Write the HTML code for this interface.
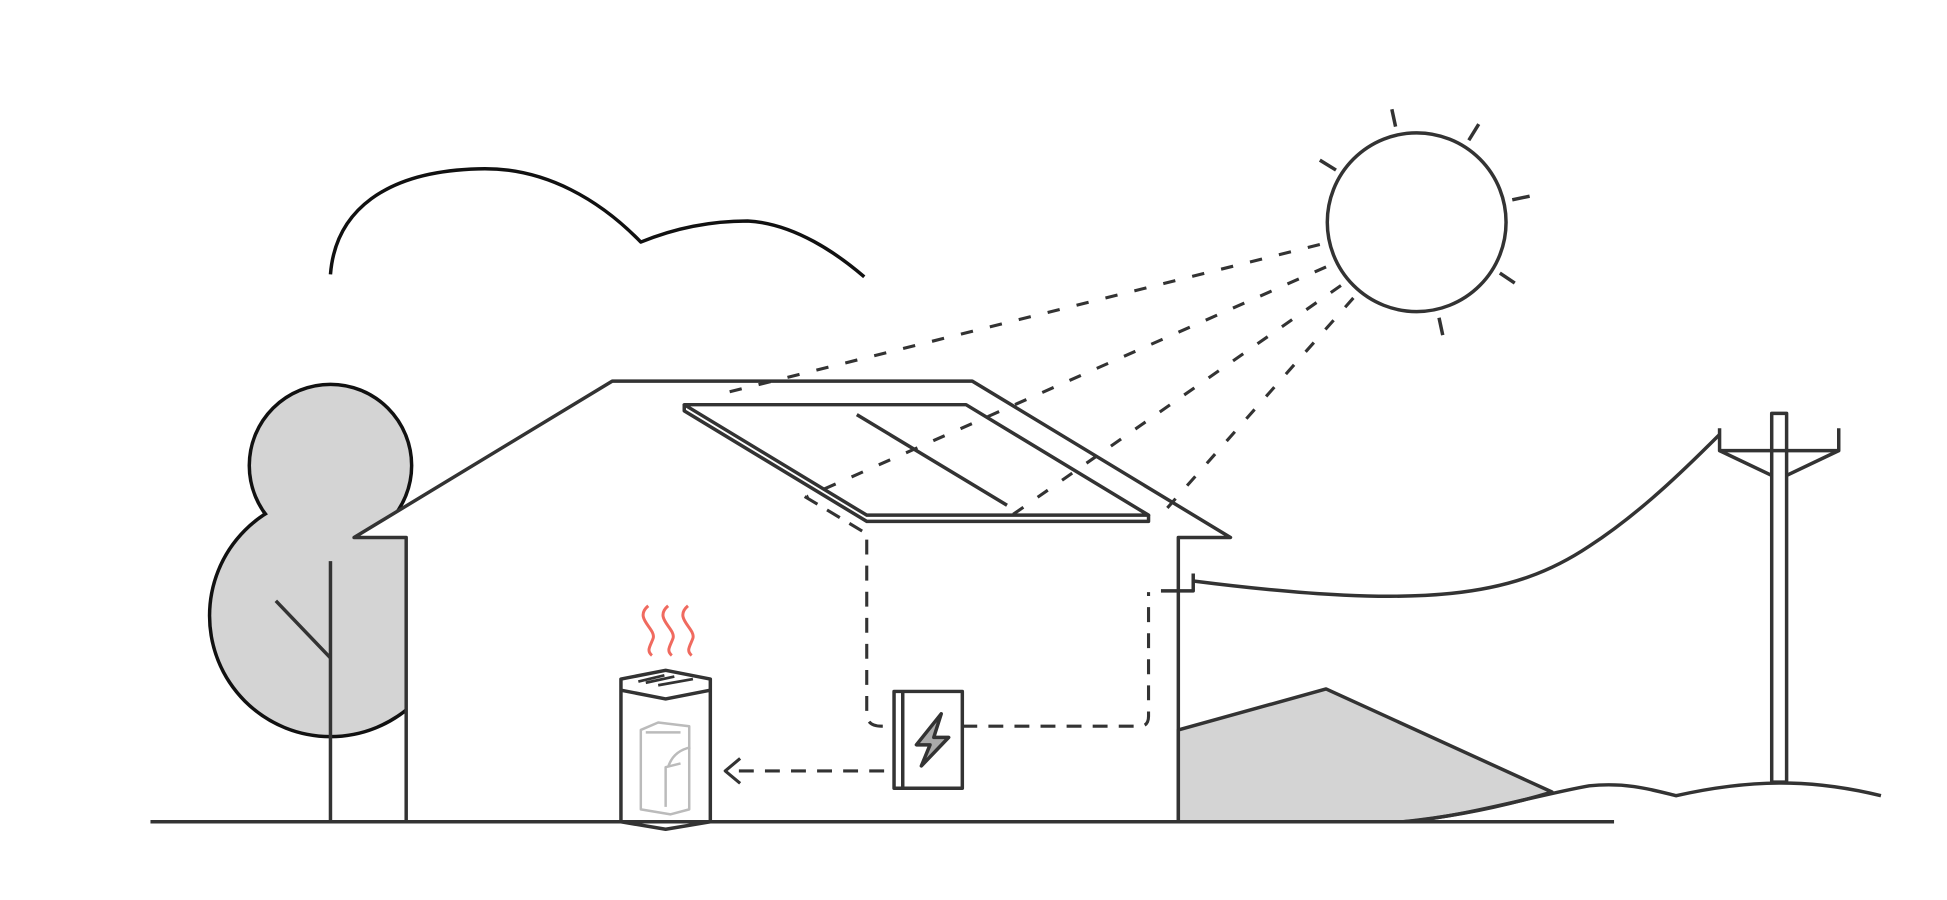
<!DOCTYPE html>
<html><head><style>html,body{margin:0;padding:0;background:#fff;width:1947px;height:900px;overflow:hidden}</style></head>
<body>
<svg width="1947" height="900" viewBox="0 0 1568 725" xmlns="http://www.w3.org/2000/svg" fill="none" stroke="#333" stroke-width="2.8" stroke-linejoin="round">
<!-- cloud -->
<path d="M266,221 C270,170 310,138 385,136 C440,134 485,163 516,195 C550,181 580,178 602,178 C640,180 675,205 696,223" stroke="#111"/>
<!-- sun -->
<circle cx="1141" cy="179" r="72"/>
<g>
<line x1="1121" y1="88" x2="1124" y2="102"/><line x1="1191" y1="100" x2="1183" y2="113"/>
<line x1="1063" y1="129" x2="1076" y2="137"/><line x1="1218" y1="161" x2="1232" y2="158"/>
<line x1="1208" y1="220" x2="1220" y2="228"/><line x1="1159" y1="256" x2="1162" y2="270"/>
</g>
<!-- tree -->
<g stroke="#111" stroke-width="5.6">
<circle cx="266" cy="375" r="64"/>
<circle cx="266" cy="496" r="96"/>
</g>
<circle cx="266" cy="375" r="64" fill="#d4d4d4" stroke="none"/>
<circle cx="266" cy="496" r="96" fill="#d4d4d4" stroke="none"/>
<line x1="266" y1="452" x2="266" y2="662"/>
<line x1="222" y1="484" x2="266" y2="530"/>
<!-- house body -->
<path d="M327,433 L327,662 L949,662 L949,433 L991,433 L783,307 L493,307 L285,433 Z" fill="#fff" stroke="none"/>
<polyline points="327,662 327,433 285,433 493,307 783,307 991,433 949,433 949,662"/>
<!-- panel -->
<polygon points="551,326 778,326 925,415 698,415" fill="#fff"/>
<polyline points="551,326 551,331 698,420 925,420 925,415"/>
<line x1="690" y1="334" x2="811" y2="407"/>
<!-- beams -->
<g stroke-dasharray="10 14" stroke-width="2.5">
<line x1="1063" y1="197" x2="578" y2="318"/>
<line x1="1068" y1="215" x2="650" y2="400"/>
<line x1="1080" y1="230" x2="815" y2="415"/>
<line x1="1090" y1="240" x2="935" y2="415"/>
</g>
<!-- wires dashed -->
<g stroke-dasharray="12 9" stroke-width="2.5">
<path d="M648,400 L698,430 L698,575 Q698,585 710,585 L720,585"/>
<path d="M775,585 L918,585 Q925,585 925,577 L925,477"/>
<line x1="712" y1="621" x2="586" y2="621"/>
</g>
<polyline points="596,611 584,621 596,631" stroke-width="2.5"/>
<!-- inverter -->
<rect x="720" y="557" width="55" height="78" fill="#fff"/>
<line x1="727" y1="557" x2="727" y2="635"/>
<path d="M758,575 L738,600 L749,600 L742,617 L764,594 L752,594 Z" fill="#aaa"/>
<!-- battery -->
<path d="M500,547 L536,540 L572,547 L572,662 L536,668 L500,662 Z" fill="#fff"/>
<polyline points="500,556 536,563 572,556"/>
<g stroke-width="2.2"><line x1="514" y1="549" x2="535" y2="544"/><line x1="520" y1="550" x2="543" y2="545"/><line x1="530" y1="552" x2="558" y2="547"/></g>
<g stroke="#bbb" stroke-width="2">
<path d="M516,588 L530,582 L555,585 L555,652 L540,656 L516,652 Z"/>
<line x1="520" y1="590" x2="548" y2="590"/>
<path d="M536,650 L536,618 L548,615 M538,618 Q542,605 556,602"/>
</g>
<g stroke="#f06a5f" stroke-width="2.4">
<path d="M522,488 C510,498 528,506 526,514 C524,520 520,524 525,528"/>
<path d="M538,488 C526,498 544,506 542,514 C540,520 536,524 541,528"/>
<path d="M554,488 C542,498 560,506 558,514 C556,520 552,524 557,528"/>
</g>
<!-- hill -->
<path d="M949,588 L1068,555 L1250,638 C1210,650 1170,658 1130,662 L949,662 Z" fill="#d4d4d4"/>
<path d="M1130,662 C1180,658 1240,640 1280,633 C1310,630 1330,636 1350,641 C1420,625 1470,630 1515,641"/>
<!-- ground -->
<line x1="121" y1="662" x2="1300" y2="662"/>
<!-- power line -->
<polyline points="935,476 961,476 961,462"/>
<path d="M961,468 C1150,492 1220,480 1280,440 C1320,414 1355,380 1385,350"/>
<rect x="1427" y="333" width="12" height="297" fill="#fff"/>
<polyline points="1385,345 1385,363 1481,363 1481,345"/>
<line x1="1385" y1="363" x2="1427" y2="383"/><line x1="1481" y1="363" x2="1439" y2="383"/>
</svg>
</body></html>
